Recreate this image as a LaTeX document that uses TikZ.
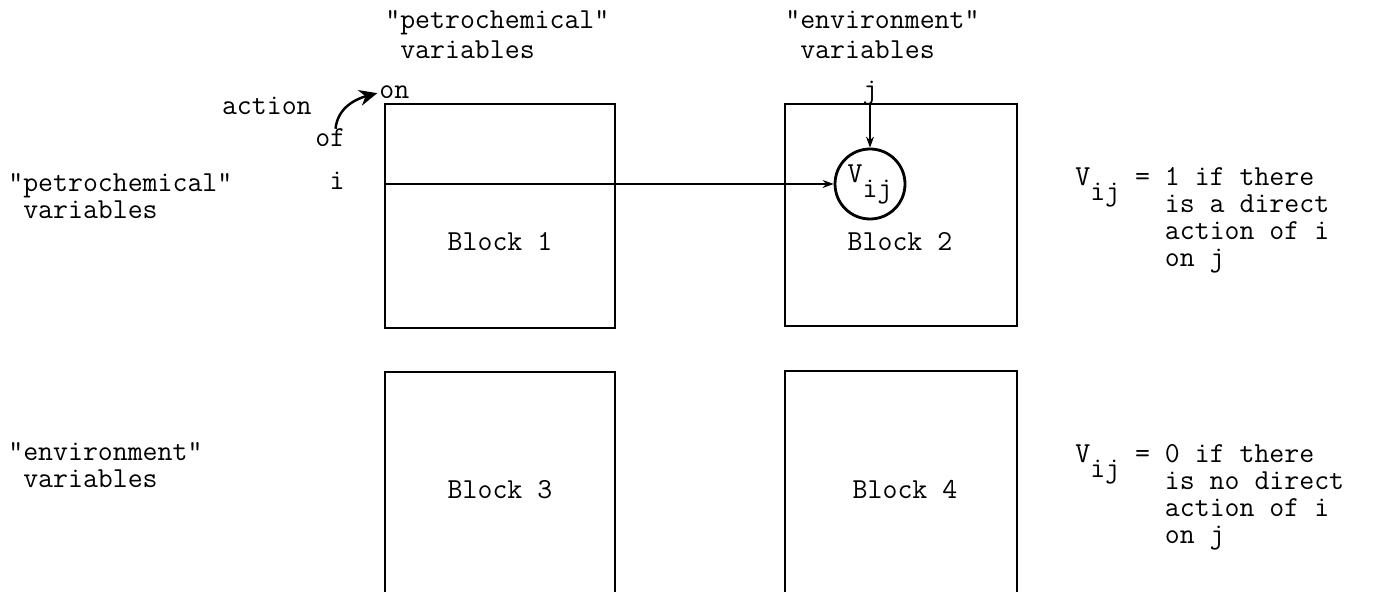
\documentclass[tikz,border=0pt]{standalone}
\usepackage{tikz}
\usetikzlibrary{arrows.meta,calc}
\tikzset{
>=Stealth,
block/.style={draw,line width=1pt,inner sep=0pt},
open block/.style={line width=1pt},
tag/.style={anchor=base west,inner sep=0pt},
link/.style={->,semithick,>={Stealth[length=2.2mm,width=1.6mm]}},
curl/.style={->,line width=1.4pt,shorten >=1pt,>={Stealth[length=3.6mm,width=3.2mm]}},
coeff/.style={circle,draw,line width=1.6pt,minimum size=1.4cm,inner sep=0pt}}
\newcommand{\Vij}{V\raisebox{-0.3cm}{ij}}
\newcommand{\twolines}[3][0pt]{\begin{tabular}[t]{@{}l@{}}#2\\[#1]#3\end{tabular}}

\begin{document}
\begin{tikzpicture}[font=\ttfamily\fontsize{16.5pt}{15.2pt}\selectfont]
\useasboundingbox (0,0) rectangle (27.8,11.84);

\node[block,minimum width=4.6cm,minimum height=4.48cm] (b1) at (10,7.52) {};
\node[block,minimum width=4.64cm,minimum height=4.44cm] (b2) at (18.02,7.54) {};
\draw[open block] (7.7,0) |- (12.3,4.4) -- (12.3,0);
\draw[open block] (15.7,0) |- (20.34,4.42) -- (20.34,0);

\node (blk1) at (10,7.0) {Block 1};
\node (blk2) at (18.0,7.0) {Block 2};
\node (blk3) at (10,2.04) {Block 3};
\node (blk4) at (18.1,2.04) {Block 4};

\node[tag] (toppetro) at (7.7,11.26) {\twolines[1.5pt]{"petrochemical"}{\phantom{"}variables}};
\node[tag] (topenv) at (15.7,11.26) {\twolines[1.5pt]{"environment"}{\phantom{"}variables}};
\node[tag] (leftpetro) at (0.16,8.0) {\twolines{"petrochemical"}{\phantom{"}variables}};
\node[tag] (leftenv) at (0.16,2.62) {\twolines{"environment"}{\phantom{"}variables}};

\node[tag] (onlbl) at (7.58,9.86) {on};
\node[tag,anchor=base east] (actlbl) at (6.24,9.54) {action};
\node[tag] (oflbl) at (6.3,8.9) {of};
\node[tag,anchor=base] (ilbl) at (6.74,8.04) {i};
\node[tag,anchor=base] (jlbl) at (17.4,9.86) {j};

\node[coeff] (vij) at (17.4,8.16) {\Vij};

\node[tag] (rule1) at (21.5,8.12) {\begin{tabular}[t]{@{}l@{}}
\smash{\Vij} = 1 if there\\
\phantom{Vij = }is a direct\\
\phantom{Vij = }action of i\\
\phantom{Vij = }on j\end{tabular}};
\node[tag] (rule0) at (21.5,2.58) {\begin{tabular}[t]{@{}l@{}}
\smash{\Vij} = 0 if there\\
\phantom{Vij = }is no direct\\
\phantom{Vij = }action of i\\
\phantom{Vij = }on j\end{tabular}};

\draw[link] (b1.west |- vij) -- (vij);
\draw[link] (vij |- b2.north) -- (vij);
\draw[curl] ([xshift=3pt]oflbl.north) to[out=85,in=195] (onlbl.west);

\end{tikzpicture}
\end{document}
